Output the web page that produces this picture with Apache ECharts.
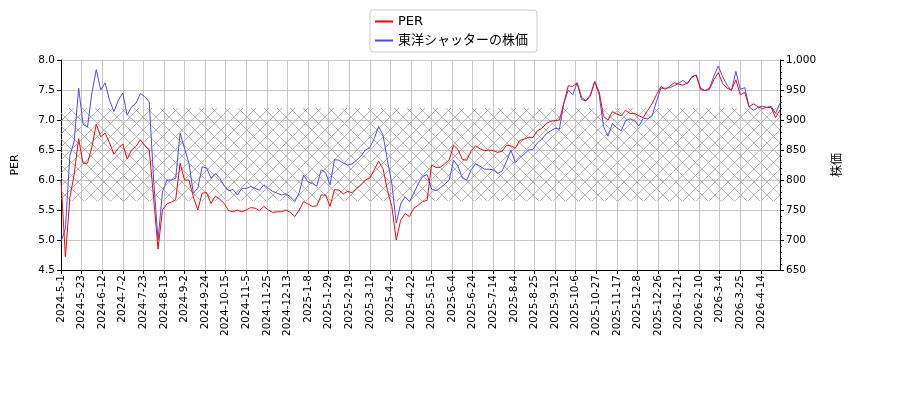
<!DOCTYPE html>
<html lang="ja">
<head>
    <meta charset="UTF-8">
    <title>PER と株価</title>
    <style>
        *{
            margin: 0;
            padding: 0;
        }
        .main{
            width: 900px;
            height: 400px;
            background: #ffffff;
        }
    </style>
    <script src="https://cdn.jsdelivr.net/npm/echarts@6/dist/echarts.min.js"></script>
</head>
<body>
<div class="main"></div>
<script>
    // 東証の休場日（平日のみ）
    const holidays = [
        '2024-05-03','2024-05-06','2024-07-15','2024-08-12','2024-09-16','2024-09-23',
        '2024-10-14','2024-11-04','2024-12-31',
        '2025-01-01','2025-01-02','2025-01-03','2025-01-13','2025-02-11','2025-02-24',
        '2025-03-20','2025-04-29','2025-05-05','2025-05-06','2025-07-21','2025-08-11',
        '2025-09-15','2025-09-23','2025-10-13','2025-11-03','2025-11-24','2025-12-31',
        '2026-01-01','2026-01-02','2026-01-12','2026-02-11','2026-02-23','2026-03-20',
        '2026-04-29','2026-05-04','2026-05-05','2026-05-06'
    ];
    const firstDay = [2024, 5, 1];
    const dayCount = 490;
    const step = 3;   // values below are read every 3 trading days

    const perValues = [
        6.0, 4.72, 5.7, 6.1, 6.69, 6.28, 6.28, 6.55, 6.93, 6.72,
        6.78, 6.62, 6.43, 6.53, 6.6, 6.35, 6.5, 6.56, 6.67, 6.57,
        6.5, 5.7, 4.85, 5.5, 5.6, 5.63, 5.67, 6.28, 6.0, 6.0,
        5.72, 5.5, 5.78, 5.79, 5.61, 5.73, 5.68, 5.61, 5.49, 5.47,
        5.5, 5.47, 5.5, 5.54, 5.53, 5.49, 5.56, 5.5, 5.46, 5.47,
        5.47, 5.5, 5.46, 5.39, 5.5, 5.64, 5.6, 5.56, 5.57, 5.75,
        5.75, 5.56, 5.84, 5.83, 5.77, 5.81, 5.79, 5.86, 5.92, 6.0,
        6.03, 6.17, 6.31, 6.19, 5.83, 5.56, 5.0, 5.33, 5.44, 5.39,
        5.53, 5.58, 5.64, 5.66, 6.25, 6.21, 6.21, 6.27, 6.33, 6.58,
        6.51, 6.34, 6.33, 6.49, 6.57, 6.52, 6.49, 6.5, 6.49, 6.46,
        6.48, 6.58, 6.57, 6.53, 6.66, 6.68, 6.71, 6.71, 6.82, 6.86,
        6.94, 6.98, 6.99, 7.0, 7.28, 7.57, 7.56, 7.62, 7.38, 7.32,
        7.4, 7.64, 7.47, 7.06, 7.0, 7.14, 7.1, 7.07, 7.16, 7.11,
        7.11, 7.07, 7.04, 7.16, 7.27, 7.42, 7.56, 7.51, 7.56, 7.62,
        7.6, 7.58, 7.62, 7.71, 7.75, 7.51, 7.49, 7.51, 7.67, 7.79,
        7.61, 7.53, 7.5, 7.67, 7.42, 7.46, 7.22, 7.27, 7.22, 7.19,
        7.21, 7.21, 7.04, 7.17
    ];
    const priceValues = [
        697, 719, 840, 865, 953, 893, 888, 945, 984, 950,
        962, 933, 914, 933, 945, 908, 922, 928, 944, 939,
        930, 800, 700, 780, 800, 800, 803, 878, 853, 828,
        778, 786, 822, 820, 803, 811, 803, 790, 782, 784,
        775, 786, 786, 789, 786, 783, 792, 786, 781, 778,
        775, 777, 772, 764, 779, 808, 797, 794, 790, 817,
        812, 792, 834, 833, 828, 825, 827, 833, 840, 850,
        854, 869, 889, 875, 833, 794, 728, 760, 772, 764,
        778, 794, 806, 809, 785, 782, 787, 793, 800, 833,
        823, 803, 800, 817, 827, 823, 818, 818, 817, 811,
        815, 831, 850, 829, 837, 843, 850, 851, 862, 868,
        877, 882, 886, 885, 928, 950, 942, 962, 934, 932,
        942, 964, 942, 889, 873, 894, 887, 882, 899, 902,
        899, 890, 903, 902, 907, 931, 953, 953, 954, 957,
        961, 966, 960, 972, 975, 953, 949, 953, 973, 990,
        972, 958, 949, 981, 951, 954, 922, 916, 921, 923,
        921, 923, 911, 928
    ];
    const perBand = [5.65, 7.2];

    // trading days -> category labels
    const pad = n => (n < 10 ? '0' : '') + n;
    let dates = [];
    let d = new Date(firstDay[0], firstDay[1] - 1, firstDay[2]);
    while (dates.length < dayCount) {
        let wd = d.getDay();
        let key = d.getFullYear() + '-' + pad(d.getMonth() + 1) + '-' + pad(d.getDate());
        if (wd !== 0 && wd !== 6 && !holidays.includes(key)) {
            dates.push(d.getFullYear() + '-' + (d.getMonth() + 1) + '-' + d.getDate());
        }
        d.setDate(d.getDate() + 1);
    }

    let perData = perValues.map((v, k) => [dates[k * step], v]);
    let priceData = priceValues.map((v, k) => [dates[k * step], v]);

    // cross hatch tile
    let hatch = document.createElement('canvas');
    hatch.width = 13;
    hatch.height = 13;
    let hc = hatch.getContext('2d');
    hc.strokeStyle = '#a8a8a8';
    hc.lineWidth = 0.8;
    hc.beginPath();
    hc.moveTo(0, 0); hc.lineTo(13, 13);
    hc.moveTo(13, 0); hc.lineTo(0, 13);
    hc.stroke();

    const font = "'DejaVu Sans', 'Noto Sans CJK JP', sans-serif";
    let main = document.querySelector('.main');
    let chart = echarts.init(main);
    let option = {
        animation: false,
        textStyle: {fontFamily: font},
        legend: {
            orient: 'vertical',
            left: 370,
            top: 10,
            padding: [5, 9, 5, 5],
            itemGap: 6,
            itemWidth: 18,
            itemHeight: 2,
            itemTextGap: 9,
            borderColor: '#cccccc',
            borderWidth: 1,
            borderRadius: 3,
            textStyle: {fontSize: 13, color: '#000', fontFamily: font},
            data: [
                {name: 'PER', icon: 'rect'},
                {name: '東洋シャッターの株価', icon: 'rect'}
            ]
        },
        grid: {left: 61, right: 120, top: 60, bottom: 130},
        xAxis: {
            type: 'category',
            data: dates,
            boundaryGap: false,
            axisLine: {lineStyle: {color: '#000'}},
            axisTick: {interval: 13, length: 4, lineStyle: {color: '#000'}},
            axisLabel: {
                interval: 13,
                rotate: 90,
                fontSize: 10.5,
                color: '#000',
                margin: 5,
                fontFamily: font
            },
            splitLine: {show: true, interval: 13, lineStyle: {color: '#c8c8c8'}}
        },
        yAxis: [{
            type: 'value',
            name: 'PER',
            nameLocation: 'middle',
            nameRotate: 90,
            nameGap: 40,
            nameTextStyle: {fontSize: 11, color: '#000'},
            min: 4.5,
            max: 8,
            interval: 0.5,
            axisLine: {show: true, lineStyle: {color: '#000'}},
            axisTick: {show: true, length: 4, lineStyle: {color: '#000'}},
            axisLabel: {
                fontSize: 10.5,
                color: '#000',
                margin: 6,
                formatter: v => v.toFixed(1)
            },
            splitLine: {lineStyle: {color: '#c8c8c8'}}
        }, {
            type: 'value',
            name: '株価',
            nameLocation: 'middle',
            nameRotate: 90,
            nameGap: 52,
            nameTextStyle: {fontSize: 12, color: '#000'},
            min: 650,
            max: 1000,
            interval: 50,
            axisLine: {show: true, lineStyle: {color: '#000'}},
            axisTick: {show: true, length: 4, lineStyle: {color: '#000'}},
            minorTick: {show: true, splitNumber: 5, length: 2, lineStyle: {color: '#000'}},
            axisLabel: {fontSize: 10.5, color: '#000', margin: 6},
            splitLine: {show: false}
        }],
        series: [{
            name: 'PER',
            type: 'line',
            yAxisIndex: 0,
            data: perData,
            symbol: 'none',
            lineStyle: {color: '#ff0000', width: 1},
            itemStyle: {color: '#ff0000'},
            z: 3,
            markArea: {
                silent: true,
                itemStyle: {color: {image: hatch, repeat: 'repeat'}},
                data: [[{yAxis: perBand[0]}, {yAxis: perBand[1]}]]
            }
        }, {
            name: '東洋シャッターの株価',
            type: 'line',
            yAxisIndex: 1,
            data: priceData,
            symbol: 'none',
            lineStyle: {color: '#4a4aff', width: 1},
            itemStyle: {color: '#4a4aff'},
            z: 2
        }]
    };
    chart.setOption(option);
</script>
</body>
</html>
